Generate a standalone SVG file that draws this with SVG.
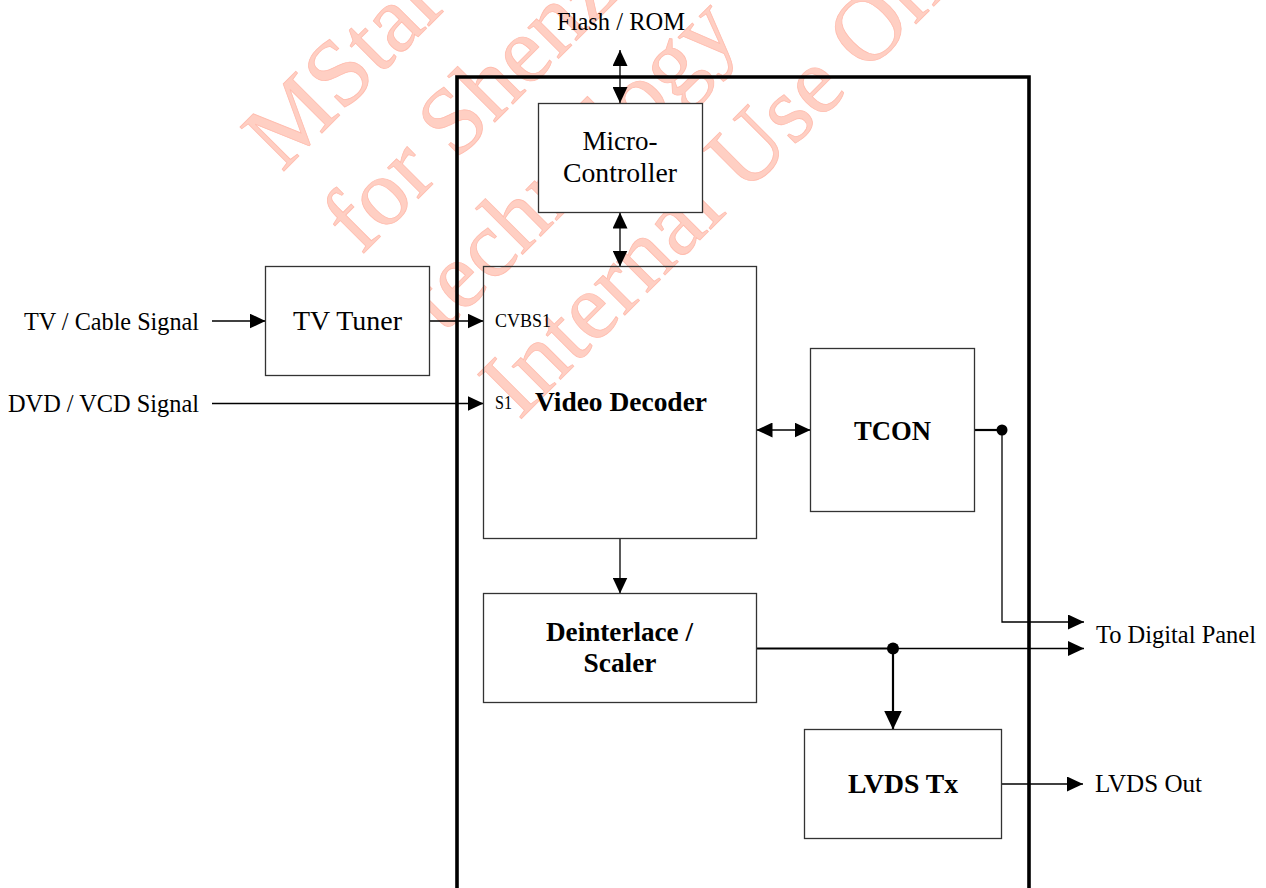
<svg xmlns="http://www.w3.org/2000/svg" width="1266" height="888" viewBox="0 0 1266 888">
<defs>
<style>
.wm{font-family:"Liberation Serif",serif;font-size:95px;fill:#ffcfc3;stroke:#ffbcae;stroke-width:0.8}
.box{fill:#fff;stroke:#333;stroke-width:1.3}
.boxn{fill:none;stroke:#333;stroke-width:1.3}
.ln{fill:none;stroke:#000;stroke-width:1.3}
.lnb{fill:none;stroke:#000;stroke-width:2.2}
.frame{fill:none;stroke:#000;stroke-width:3.6}
.t{font-family:"Liberation Serif",serif;fill:#000}
.lab{font-size:26px}
.bx{font-size:28px}
.bd{font-size:28px;font-weight:bold}
.sm{font-size:18px}
</style>
<marker id="ah" viewBox="0 0 16 15" refX="16" refY="7.5" markerWidth="16" markerHeight="15" markerUnits="userSpaceOnUse" orient="auto-start-reverse">
<path d="M0,0 L16,7.5 L0,15 z" fill="#000"/>
</marker>
<marker id="ahL" viewBox="0 0 18 19" refX="19" refY="9" markerWidth="18" markerHeight="19" markerUnits="userSpaceOnUse" orient="auto-start-reverse">
<path d="M0,0 L19,9 L0,18 z" fill="#000"/>
</marker>
</defs>
<rect width="1266" height="888" fill="#fff"/>

<g id="watermark">
<text class="wm" transform="translate(282,173) rotate(-45)">MStar</text>
<text class="wm" transform="translate(361,256) rotate(-45)">for Shenzhen</text>
<text class="wm" transform="translate(443,334) rotate(-45)">technology</text>
<text class="wm" transform="translate(519,421) rotate(-45)">Internal Use Only</text>
</g>

<g id="frame">
<path class="frame" d="M457,890 L457,77 L1029,77 L1029,890"/>
</g>

<g id="connectors">
<line class="ln" x1="620" y1="50" x2="620" y2="103" marker-start="url(#ah)" marker-end="url(#ah)"/>
<line class="ln" x1="620" y1="212.5" x2="620" y2="266.5" marker-start="url(#ah)" marker-end="url(#ah)"/>
<line class="ln" x1="212" y1="321" x2="265.5" y2="321" marker-end="url(#ah)"/>
<line class="ln" x1="429.5" y1="321" x2="483.5" y2="321" marker-end="url(#ah)"/>
<line class="ln" x1="212" y1="403.5" x2="483.5" y2="403.5" marker-end="url(#ah)"/>
<line class="ln" x1="756.5" y1="430" x2="810.5" y2="430" marker-start="url(#ah)" marker-end="url(#ah)"/>
<line class="ln" x1="620" y1="538.5" x2="620" y2="593.5" marker-end="url(#ah)"/>
<line class="lnb" x1="975" y1="430" x2="1002" y2="430"/>
<polyline class="ln" points="1002,430 1002,622 1084,622" marker-end="url(#ah)"/>
<circle cx="1002" cy="430" r="5.5" fill="#000"/>
<line class="lnb" x1="756.5" y1="648.5" x2="893" y2="648.5"/>
<line class="ln" x1="893" y1="648.5" x2="1084" y2="648.5" marker-end="url(#ah)"/>
<line class="lnb" x1="893" y1="648.5" x2="893" y2="729.5" marker-end="url(#ahL)"/>
<circle cx="893" cy="648.5" r="6" fill="#000"/>
<line class="ln" x1="1001.5" y1="784" x2="1083" y2="784" marker-end="url(#ah)"/>
</g>

<g id="micro-controller">
<rect class="box" x="538.5" y="103.5" width="164" height="109"/>
<text class="t bx" x="620" y="150" text-anchor="middle" textLength="75" lengthAdjust="spacingAndGlyphs">Micro-</text>
<text class="t bx" x="620" y="182" text-anchor="middle" textLength="114" lengthAdjust="spacingAndGlyphs">Controller</text>
</g>

<g id="tv-tuner">
<rect class="box" x="265.5" y="266.5" width="164" height="109"/>
<text class="t bx" x="347.5" y="330" text-anchor="middle" textLength="109" lengthAdjust="spacingAndGlyphs">TV Tuner</text>
</g>

<g id="video-decoder">
<rect class="boxn" x="483.5" y="266.5" width="273" height="272"/>
<text class="t sm" x="495" y="327" textLength="56" lengthAdjust="spacingAndGlyphs">CVBS1</text>
<text class="t sm" x="495" y="409" textLength="17" lengthAdjust="spacingAndGlyphs">S1</text>
<text class="t bd" x="535" y="411" textLength="172" lengthAdjust="spacingAndGlyphs">Video Decoder</text>
</g>

<g id="tcon">
<rect class="box" x="810.5" y="348.5" width="164" height="163"/>
<text class="t bd" x="892.5" y="440" text-anchor="middle" textLength="77" lengthAdjust="spacingAndGlyphs">TCON</text>
</g>

<g id="deinterlace-scaler">
<rect class="box" x="483.5" y="593.5" width="273" height="109"/>
<text class="t bd" x="619.5" y="641" text-anchor="middle" textLength="147" lengthAdjust="spacingAndGlyphs">Deinterlace /</text>
<text class="t bd" x="620" y="672" text-anchor="middle" textLength="73" lengthAdjust="spacingAndGlyphs">Scaler</text>
</g>

<g id="lvds-tx">
<rect class="box" x="804.5" y="729.5" width="197" height="109"/>
<text class="t bd" x="903" y="793" text-anchor="middle" textLength="110" lengthAdjust="spacingAndGlyphs">LVDS Tx</text>
</g>

<g id="labels">
<text class="t lab" x="621" y="30" text-anchor="middle" textLength="128" lengthAdjust="spacingAndGlyphs">Flash / ROM</text>
<text class="t lab" x="24" y="330" textLength="175" lengthAdjust="spacingAndGlyphs">TV / Cable Signal</text>
<text class="t lab" x="8" y="412" textLength="191" lengthAdjust="spacingAndGlyphs">DVD / VCD Signal</text>
<text class="t lab" x="1096" y="643" textLength="160" lengthAdjust="spacingAndGlyphs">To Digital Panel</text>
<text class="t lab" x="1095" y="792" textLength="107" lengthAdjust="spacingAndGlyphs">LVDS Out</text>
</g>
</svg>
